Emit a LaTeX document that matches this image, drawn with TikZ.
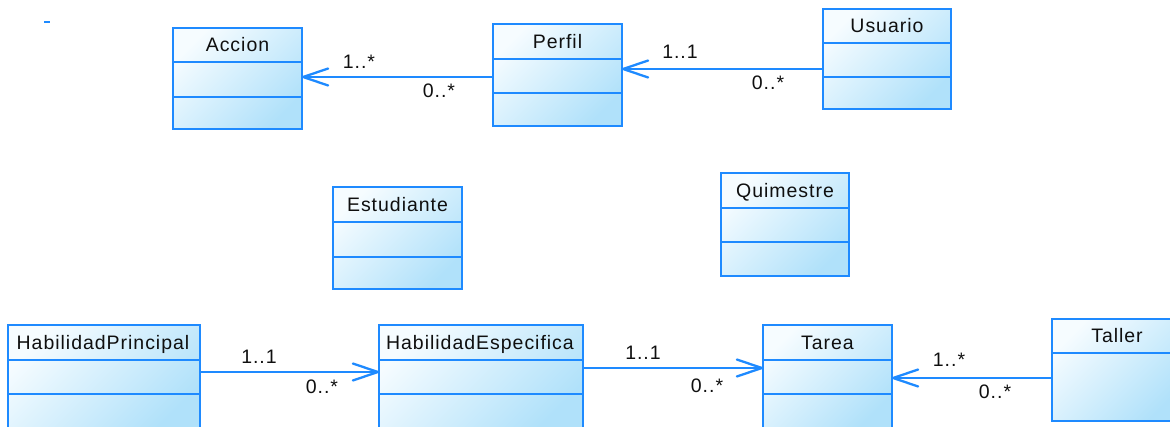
\documentclass[tikz,border=0pt]{standalone}
\usepackage{fontspec}
\setmainfont{Liberation Sans}[LetterSpace=5]
\usetikzlibrary{arrows.meta}

\definecolor{umlblue}{RGB}{30,138,255}
\definecolor{filllight}{RGB}{246,252,255}
\definecolor{filldark}{RGB}{176,225,250}
\definecolor{inkcol}{RGB}{15,15,15}

\tikzset{
  cls/.style={draw=umlblue, line width=2.3pt, top color=filllight,
    bottom color=filldark, shading angle=45, inner sep=0pt, outer sep=0pt,
    anchor=north west, rectangle},
  divider/.style={draw=umlblue, line width=2.3pt},
  title/.style={text=inkcol, font=\fontsize{19.5}{21}\selectfont,
    inner sep=0pt, text height=14pt, text depth=0pt},
  mult/.style={text=inkcol, font=\fontsize{19.5}{21}\selectfont,
    inner sep=0pt, text height=14pt, text depth=0pt},
  assoc/.style={draw=umlblue, line width=2.3pt,
    -{Straight Barb[length=25pt,width=17pt,round]}},
}

\begin{document}
\begin{tikzpicture}[x=1pt,y=-1pt]
\useasboundingbox (0,0) rectangle (1170,427);
\begin{scope}
\clip (0,0) rectangle (1170,427);

% small marker in the corner
\draw[umlblue, line width=2.5pt] (44,22) -- (50,22);

% ---- class boxes ----
\node[cls, minimum width=129pt, minimum height=101pt] (accion) at (173,28) {};
\draw[divider] (accion.west |- 0,62) -- (accion.east |- 0,62);
\draw[divider] (accion.west |- 0,97) -- (accion.east |- 0,97);
\node[title] (accionT) at (237.5,45) {Accion};

\node[cls, minimum width=129pt, minimum height=102pt] (perfil) at (493,24) {};
\draw[divider] (perfil.west |- 0,59) -- (perfil.east |- 0,59);
\draw[divider] (perfil.west |- 0,93) -- (perfil.east |- 0,93);
\node[title] (perfilT) at (557.5,41.5) {Perfil};

\node[cls, minimum width=128pt, minimum height=100pt] (usuario) at (823,9) {};
\draw[divider] (usuario.west |- 0,43) -- (usuario.east |- 0,43);
\draw[divider] (usuario.west |- 0,77) -- (usuario.east |- 0,77);
\node[title] (usuarioT) at (887,26) {Usuario};

\node[cls, minimum width=129pt, minimum height=102pt] (estudiante) at (333,187) {};
\draw[divider] (estudiante.west |- 0,222) -- (estudiante.east |- 0,222);
\draw[divider] (estudiante.west |- 0,257) -- (estudiante.east |- 0,257);
\node[title] (estudianteT) at (397.5,204.5) {Estudiante};

\node[cls, minimum width=128pt, minimum height=103pt] (quimestre) at (721,173) {};
\draw[divider] (quimestre.west |- 0,208) -- (quimestre.east |- 0,208);
\draw[divider] (quimestre.west |- 0,242) -- (quimestre.east |- 0,242);
\node[title] (quimestreT) at (785,190.5) {Quimestre};

\node[cls, minimum width=192pt, minimum height=104pt] (habprin) at (8,325) {};
\draw[divider] (habprin.west |- 0,360) -- (habprin.east |- 0,360);
\draw[divider] (habprin.west |- 0,394) -- (habprin.east |- 0,394);
\node[title] (habprinT) at (103,342.5) {HabilidadPrincipal};

\node[cls, minimum width=204pt, minimum height=104pt] (habesp) at (379,325) {};
\draw[divider] (habesp.west |- 0,360) -- (habesp.east |- 0,360);
\draw[divider] (habesp.west |- 0,394) -- (habesp.east |- 0,394);
\node[title] (habespT) at (480,342.5) {HabilidadEspecifica};

\node[cls, minimum width=129pt, minimum height=104pt] (tarea) at (763,325) {};
\draw[divider] (tarea.west |- 0,360) -- (tarea.east |- 0,360);
\draw[divider] (tarea.west |- 0,394) -- (tarea.east |- 0,394);
\node[title] (tareaT) at (827.5,342.5) {Tarea};

\node[cls, minimum width=130pt, minimum height=102pt] (taller) at (1052,319) {};
\draw[divider] (taller.west |- 0,353) -- (taller.east |- 0,353);
\node[title] (tallerT) at (1117,336) {Taller};

% ---- associations ----
\draw[assoc] (perfil.west |- 0,77) -- (accion.east |- 0,77);
\node[mult] (m1a) at (359,62) {1..*};
\node[mult] (m1b) at (439,91) {0..*};

\draw[assoc] (usuario.west |- 0,69) -- (perfil.east |- 0,69);
\node[mult] (m2a) at (680,52) {1..1};
\node[mult] (m2b) at (768,83) {0..*};

\draw[assoc] (habprin.east |- 0,372) -- (habesp.west |- 0,372);
\node[mult] (m3a) at (259,357) {1..1};
\node[mult] (m3b) at (322,387) {0..*};

\draw[assoc] (habesp.east |- 0,368) -- (tarea.west |- 0,368);
\node[mult] (m4a) at (643,353) {1..1};
\node[mult] (m4b) at (707,385) {0..*};

\draw[assoc] (taller.west |- 0,378) -- (tarea.east |- 0,378);
\node[mult] (m5a) at (949,360) {1..*};
\node[mult] (m5b) at (995,392) {0..*};
\end{scope}
\end{tikzpicture}
\end{document}
